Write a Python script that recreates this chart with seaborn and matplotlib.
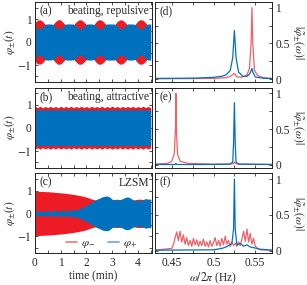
import numpy as np
import matplotlib
matplotlib.use("Agg")
import matplotlib.pyplot as plt
import seaborn as sns
from matplotlib.lines import Line2D
from matplotlib.ticker import MultipleLocator

t_grid = np.round(np.arange(0, 4.6, 0.1), 1)

# (a) beating, repulsive: envelope amplitudes
red_a = [0.86, 0.96, 0.97, 0.90, 0.76, 0.70, 0.70, 0.77, 0.90, 0.98,
         0.96, 0.85, 0.72, 0.70, 0.70, 0.75, 0.88, 0.97, 0.97, 0.88,
         0.75, 0.70, 0.70, 0.78, 0.92, 0.98, 0.95, 0.84, 0.71, 0.70,
         0.70, 0.76, 0.90, 0.97, 0.96, 0.86, 0.73, 0.70, 0.70, 0.78,
         0.92, 0.98, 0.95, 0.84, 0.71, 0.70]
blue_a = [0.69, 0.58, 0.57, 0.67, 0.78, 0.79, 0.79, 0.77, 0.66, 0.56,
          0.59, 0.71, 0.79, 0.79, 0.79, 0.78, 0.68, 0.57, 0.57, 0.68,
          0.78, 0.79, 0.79, 0.76, 0.64, 0.56, 0.60, 0.73, 0.79, 0.79,
          0.79, 0.78, 0.67, 0.57, 0.58, 0.69, 0.79, 0.79, 0.79, 0.76,
          0.64, 0.56, 0.60, 0.73, 0.79, 0.79]

# (b) beating, attractive
red_b = [0.93, 0.88, 0.94, 0.87, 0.93, 0.88, 0.94, 0.88, 0.93, 0.87,
         0.94, 0.88, 0.93, 0.88, 0.94, 0.87, 0.93, 0.88, 0.94, 0.88,
         0.93, 0.87, 0.94, 0.88, 0.93, 0.88, 0.94, 0.87, 0.93, 0.88,
         0.94, 0.88, 0.93, 0.87, 0.94, 0.88, 0.93, 0.88, 0.94, 0.87,
         0.93, 0.88, 0.94, 0.88, 0.93, 0.88]
blue_b = [0.77, 0.79, 0.77, 0.79, 0.77, 0.79, 0.77, 0.79, 0.77, 0.79,
          0.77, 0.79, 0.77, 0.79, 0.77, 0.79, 0.77, 0.79, 0.77, 0.79,
          0.77, 0.79, 0.77, 0.79, 0.77, 0.79, 0.77, 0.79, 0.77, 0.79,
          0.77, 0.79, 0.77, 0.79, 0.77, 0.79, 0.77, 0.79, 0.77, 0.79,
          0.77, 0.79, 0.77, 0.79, 0.77, 0.79]

# (c) LZSM
red_c = [0.97, 0.97, 0.96, 0.96, 0.95, 0.95, 0.94, 0.93, 0.92, 0.91,
         0.90, 0.89, 0.88, 0.86, 0.85, 0.83, 0.81, 0.79, 0.77, 0.74,
         0.71, 0.67, 0.63, 0.60, 0.58, 0.57, 0.56, 0.56, 0.56, 0.57,
         0.59, 0.61, 0.62, 0.60, 0.58, 0.56, 0.55, 0.56, 0.58, 0.60,
         0.62, 0.62, 0.61, 0.60, 0.60, 0.61]
blue_c = [0.10, 0.08, 0.12, 0.07, 0.11, 0.13, 0.07, 0.12, 0.13, 0.07,
          0.13, 0.14, 0.08, 0.14, 0.15, 0.12, 0.17, 0.20, 0.24, 0.30,
          0.36, 0.42, 0.48, 0.55, 0.62, 0.66, 0.72, 0.75, 0.76, 0.72,
          0.62, 0.58, 0.60, 0.60, 0.64, 0.70, 0.72, 0.68, 0.60, 0.55,
          0.57, 0.56, 0.60, 0.65, 0.62, 0.63]

# (d) spectra, repulsive
f_d_blue = [0.43, 0.46, 0.48, 0.50, 0.51, 0.515, 0.52, 0.523, 0.525, 0.527,
            0.53, 0.535, 0.54, 0.543, 0.545, 0.546, 0.547, 0.55, 0.56, 0.57]
a_d_blue = [0.01, 0.012, 0.015, 0.025, 0.04, 0.06, 0.12, 0.30, 0.68, 0.30,
            0.10, 0.04, 0.04, 0.07, 0.12, 0.15, 0.10, 0.03, 0.012, 0.008]
f_d_red = [0.43, 0.50, 0.515, 0.52, 0.525, 0.528, 0.535, 0.54, 0.543, 0.545,
           0.546, 0.547, 0.549, 0.553, 0.56, 0.57]
a_d_red = [0.005, 0.01, 0.02, 0.04, 0.08, 0.03, 0.03, 0.06, 0.15, 0.50,
           1.00, 0.50, 0.12, 0.05, 0.02, 0.01]

# (e) spectra, attractive
f_e_red = [0.43, 0.445, 0.45, 0.453, 0.4545, 0.455, 0.4555, 0.457, 0.46, 0.47,
           0.50, 0.52, 0.524, 0.525, 0.526, 0.53, 0.57]
a_e_red = [0.01, 0.02, 0.05, 0.15, 0.50, 1.00, 0.50, 0.15, 0.05, 0.02,
           0.01, 0.01, 0.02, 0.04, 0.02, 0.01, 0.005]
f_e_blue = [0.43, 0.454, 0.455, 0.456, 0.50, 0.52, 0.523, 0.524, 0.525, 0.526,
            0.527, 0.53, 0.57]
a_e_blue = [0.005, 0.005, 0.02, 0.005, 0.005, 0.01, 0.04, 0.30, 0.87, 0.30,
            0.04, 0.01, 0.005]

# (f) spectra, LZSM
f_f_red = [0.43, 0.450, 0.452, 0.454, 0.456, 0.458, 0.460, 0.462, 0.464, 0.466,
           0.468, 0.470, 0.472, 0.474, 0.476, 0.478, 0.480, 0.482, 0.484, 0.486,
           0.488, 0.490, 0.492, 0.494, 0.496, 0.498, 0.500, 0.502, 0.504, 0.506,
           0.508, 0.510, 0.512, 0.514, 0.516, 0.518, 0.520, 0.522, 0.524, 0.526,
           0.528, 0.530, 0.532, 0.534, 0.536, 0.538, 0.540, 0.542, 0.544, 0.546,
           0.548, 0.550, 0.552, 0.554, 0.556, 0.57]
a_f_red = [0.005, 0.03, 0.08, 0.18, 0.26, 0.14, 0.27, 0.12, 0.22, 0.09,
           0.18, 0.07, 0.14, 0.06, 0.17, 0.08, 0.15, 0.06, 0.13, 0.07,
           0.16, 0.06, 0.12, 0.05, 0.14, 0.06, 0.11, 0.18, 0.07, 0.14,
           0.06, 0.17, 0.08, 0.20, 0.09, 0.14, 0.06, 0.12, 0.07, 0.10,
           0.06, 0.12, 0.07, 0.16, 0.27, 0.13, 0.30, 0.12, 0.24, 0.09,
           0.17, 0.06, 0.04, 0.02, 0.01, 0.005]
f_f_blue = [0.43, 0.50, 0.51, 0.515, 0.52, 0.522, 0.524, 0.525, 0.526, 0.528,
            0.532, 0.536, 0.54, 0.544, 0.548, 0.555, 0.57]
a_f_blue = [0.005, 0.01, 0.03, 0.05, 0.08, 0.10, 0.30, 1.00, 0.30, 0.08,
            0.10, 0.06, 0.08, 0.05, 0.04, 0.02, 0.005]

RED = "#ED1C24"
BLUE = "#0072BD"
FS = 8.3

sns.set_theme(style="ticks")
plt.rcParams["font.family"] = ["Liberation Serif", "DejaVu Serif"]
plt.rcParams["mathtext.fontset"] = "stix"
plt.rcParams["font.size"] = FS
plt.rcParams["axes.linewidth"] = 0.7
plt.rcParams["axes.edgecolor"] = "#222222"

fig = plt.figure(figsize=(3.07, 2.85), dpi=100)
W, H = 307, 285
tops = [2, 87.7, 173.4]
ph = 80

left_axes, right_axes = [], []
for top in tops:
    left_axes.append(fig.add_axes([35 / W, 1 - (top + ph) / H, 117 / W, ph / H]))
    right_axes.append(fig.add_axes([155 / W, 1 - (top + ph) / H, 117 / W, ph / H]))

time_data = [(red_a, blue_a), (red_b, blue_b), (red_c, blue_c)]
panel_left = ["(a)", "(b)", "(c)"]
panel_note = ["beating, repulsive", "beating, attractive", "LZSM"]

for i, ax in enumerate(left_axes):
    r, b = time_data[i]
    r = np.array(r)
    b = np.array(b)
    ax.fill_between(t_grid, -r, r, color=RED, lw=0)
    ax.fill_between(t_grid, -b, b, color=BLUE, lw=0)
    ax.set_xlim(0, 4.55)
    ax.set_ylim(-1.75, 1.75)
    ax.set_yticks([-1, 0, 1])
    ax.set_yticklabels(["$-1$", "0", "1"])
    ax.xaxis.set_major_locator(MultipleLocator(1))
    ax.xaxis.set_minor_locator(MultipleLocator(0.5))
    ax.yaxis.set_minor_locator(MultipleLocator(0.5))
    ax.set_ylabel(r"$\varphi_{\pm}(t)$", fontsize=FS)
    ax.yaxis.set_label_coords(-0.15, 0.5)
    ax.text(0.035, 0.96, panel_left[i], transform=ax.transAxes, ha="left", va="top", fontsize=FS)
    ax.text(0.975, 0.96, panel_note[i], transform=ax.transAxes, ha="right", va="top", fontsize=FS)
    if i < 2:
        ax.set_xticklabels([])
    else:
        ax.set_xlabel("time (min)", fontsize=FS, labelpad=1)

spec_data = [
    (f_d_red, a_d_red, f_d_blue, a_d_blue),
    (f_e_red, a_e_red, f_e_blue, a_e_blue),
    (f_f_red, a_f_red, f_f_blue, a_f_blue),
]
panel_right = ["(d)", "(e)", "(f)"]

for i, ax in enumerate(right_axes):
    fr, ar, fb, ab = spec_data[i]
    sns.lineplot(x=fr, y=ar, ax=ax, color=RED, lw=0.9, alpha=0.7, sort=False, estimator=None)
    sns.lineplot(x=fb, y=ab, ax=ax, color=BLUE, lw=0.9, sort=False, estimator=None)
    ax.set_xlim(0.43, 0.57)
    ax.set_ylim(-0.04, 1.08)
    ax.set_yticks([0, 0.5, 1])
    ax.set_yticklabels(["0", "0.5", "1"])
    ax.xaxis.set_major_locator(MultipleLocator(0.05))
    ax.xaxis.set_minor_locator(MultipleLocator(0.025))
    ax.yaxis.set_minor_locator(MultipleLocator(0.25))
    ax.yaxis.tick_right()
    ax.text(0.035, 0.96, panel_right[i], transform=ax.transAxes, ha="left", va="top", fontsize=FS)
    # right-hand label, read top to bottom
    y_mid = 1 - (tops[i] + ph / 2) / H
    fig.text(298 / W, y_mid, r"$|\tilde{\varphi}_{\pm}(\omega)|$", rotation=-90,
             ha="center", va="center", fontsize=FS)
    if i < 2:
        ax.set_xticklabels([])
    else:
        ax.set_xticks([0.45, 0.5, 0.55])
        ax.set_xticklabels(["0.45", "0.5", "0.55"])
        ax.set_xlabel(r"$\omega/2\pi$ (Hz)", fontsize=FS, labelpad=1)

for ax in left_axes + right_axes:
    ax.tick_params(which="both", direction="in", top=True, bottom=True, left=True, right=True,
                   width=0.6, length=2.5, pad=2.5, labelsize=FS, color="#333333")

handles = [Line2D([0], [0], color=RED, lw=1.2, alpha=0.6),
           Line2D([0], [0], color=BLUE, lw=1.2, alpha=0.6)]
left_axes[2].legend(handles, [r"$\varphi_{-}$", r"$\varphi_{+}$"], loc="lower right", ncol=2,
                    frameon=False, fontsize=FS, handlelength=1.0, columnspacing=1.1,
                    handletextpad=0.3, borderaxespad=0, bbox_to_anchor=(0.91, -0.02))

fig.savefig("out.png", dpi=100)
